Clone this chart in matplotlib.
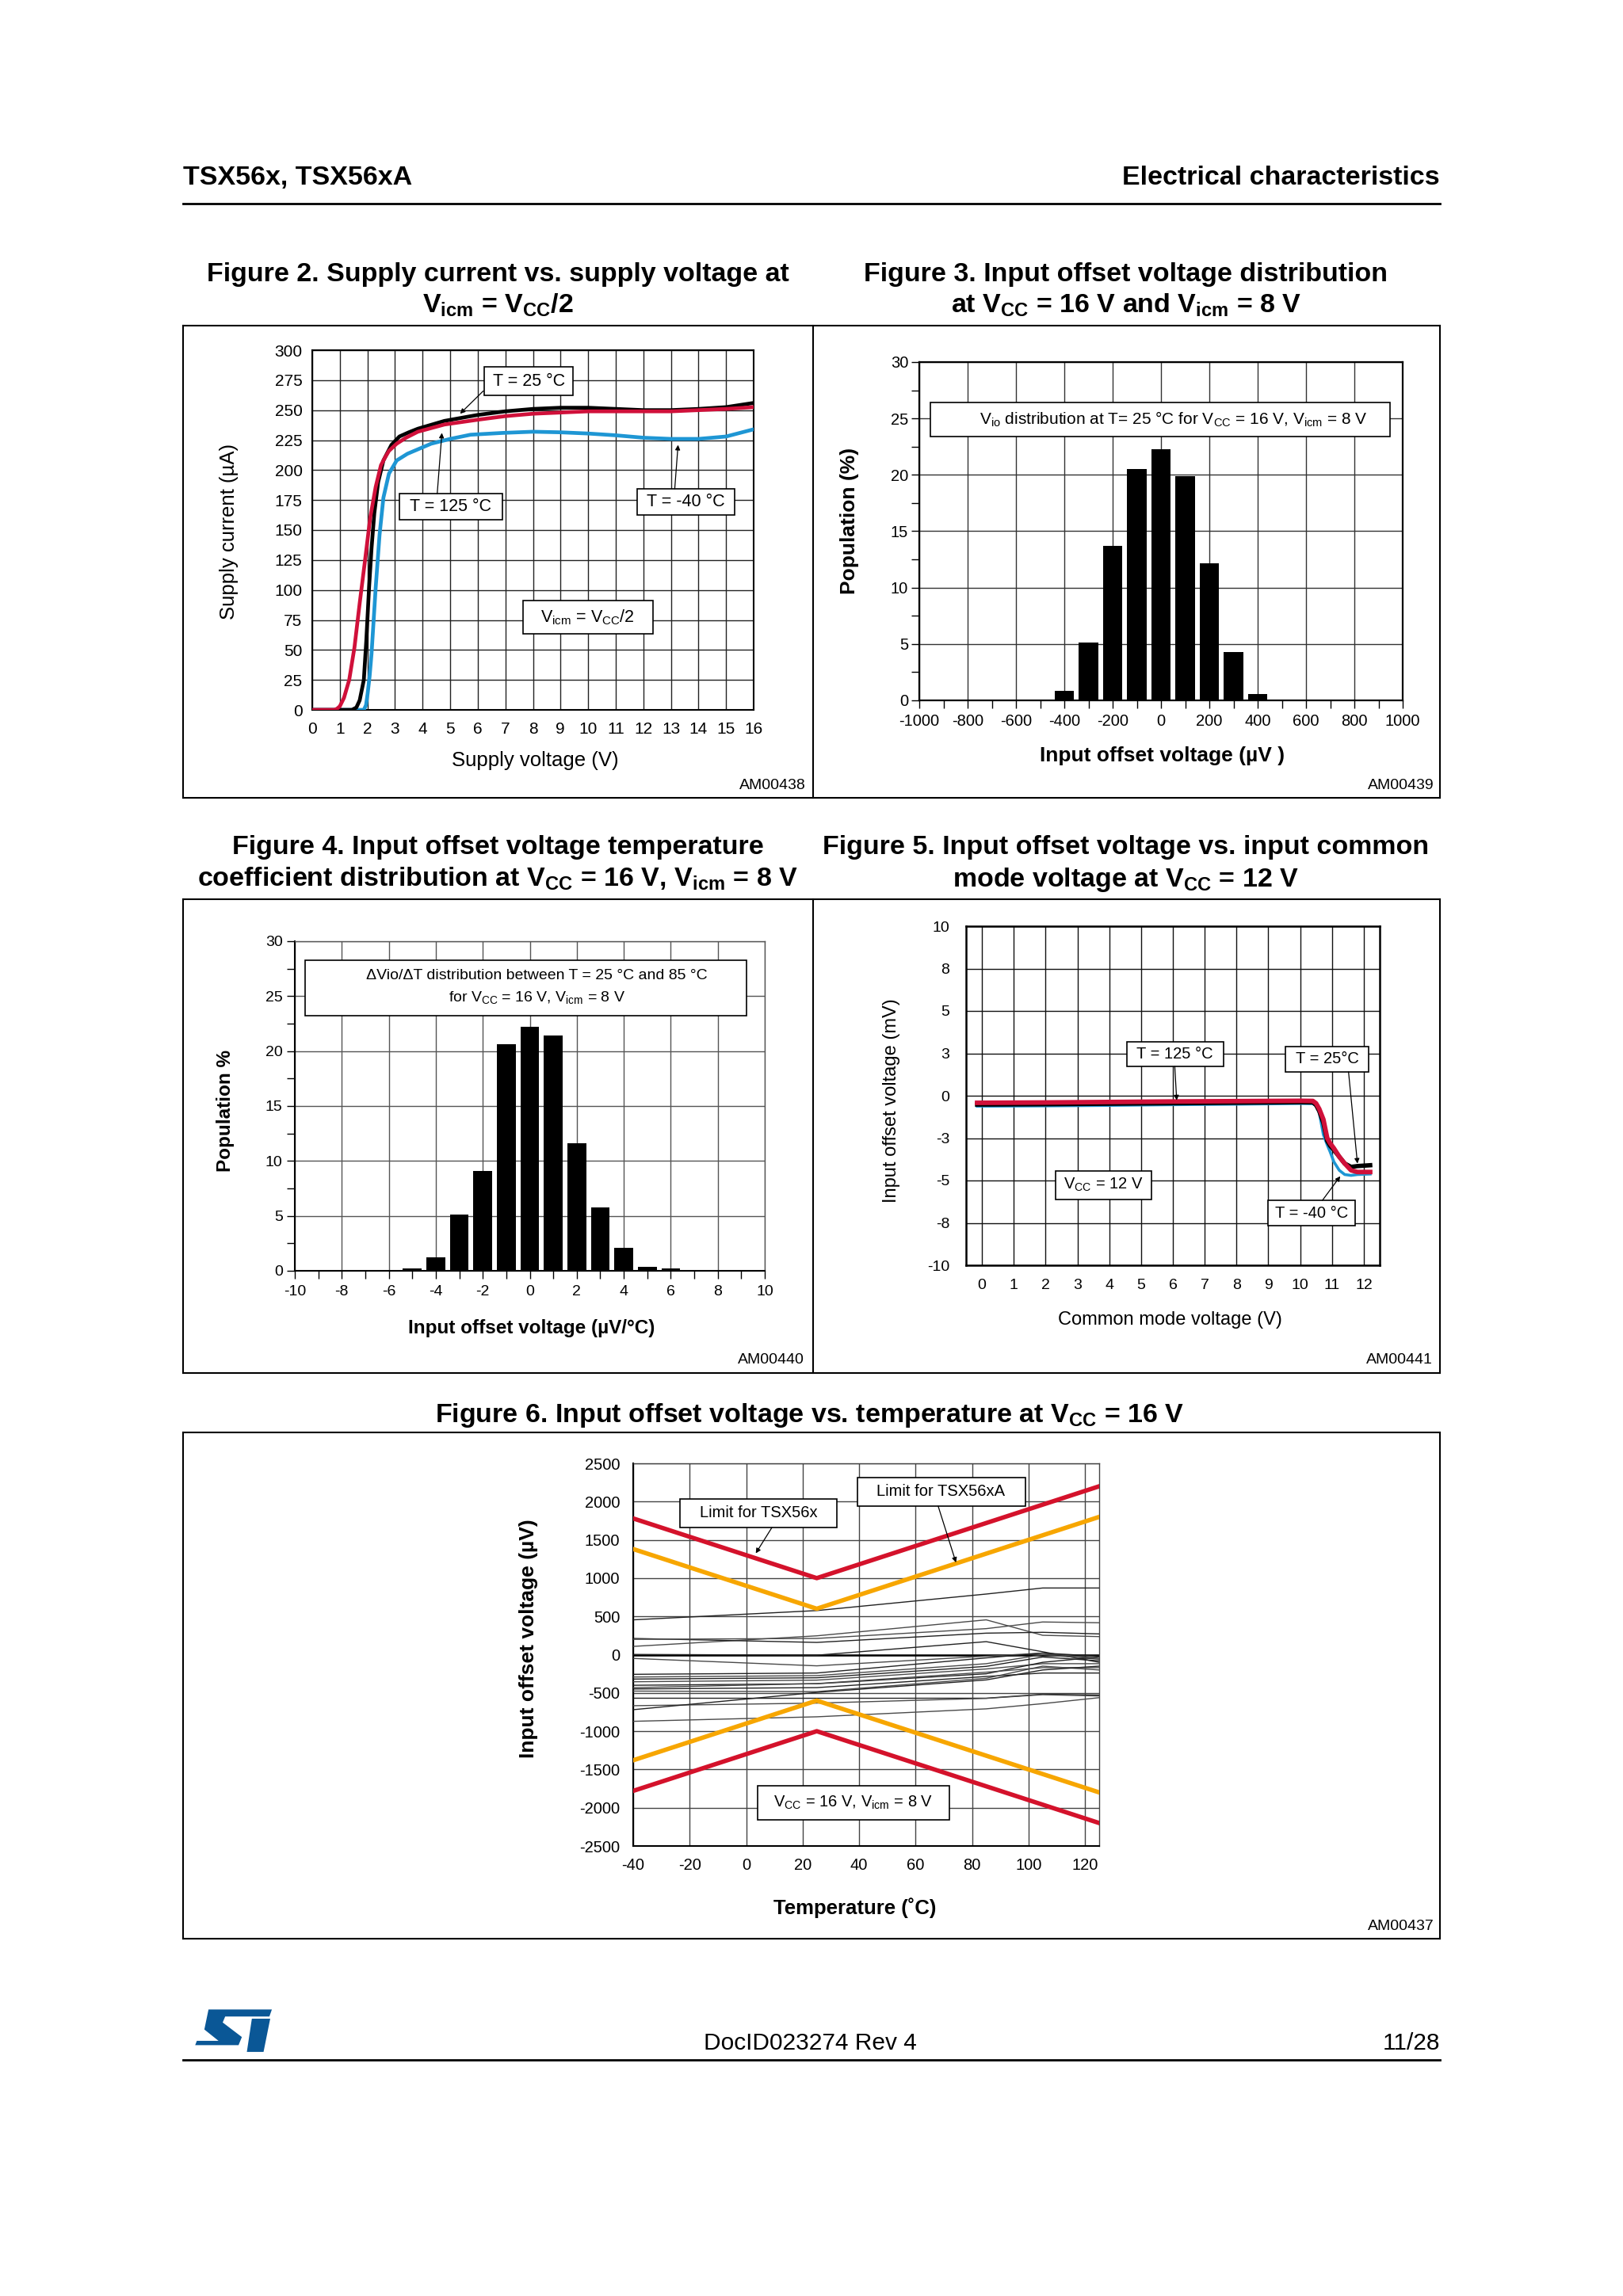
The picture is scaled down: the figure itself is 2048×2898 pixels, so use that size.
import matplotlib
matplotlib.use('Agg')
import matplotlib.pyplot as plt
from matplotlib.patches import Rectangle, Polygon
import numpy as np

plt.rcParams['font.family'] = ['Liberation Sans', 'DejaVu Sans']
plt.rcParams['mathtext.default'] = 'regular'
plt.rcParams['axes.unicode_minus'] = False

# ---------------- DATA ----------------
# Figure 2: supply current vs supply voltage
fig2_x_t25 = [0, 1.44, 1.6, 1.72, 1.87, 1.96, 2.06, 2.15, 2.25, 2.39, 2.58, 2.87, 3.16, 3.5, 3.83,
              4.79, 6, 7, 8, 9, 10, 11, 12, 13, 14, 15, 16]
fig2_i_t25 = [0, 0, 2, 8, 25, 58, 102, 135, 164, 190, 208, 221, 228, 231.5, 234.5,
              241, 246, 249, 251, 252, 252, 251, 250, 250, 251, 252.5, 256]
fig2_x_t125 = [0, 0.8, 0.9, 1.0, 1.15, 1.34, 1.53, 1.72, 1.91, 2.1, 2.3, 2.49, 2.65, 2.78, 3.06,
               3.4, 3.83, 4.79, 6, 7, 8, 9, 10, 11, 12, 13, 14, 15, 16]
fig2_i_t125 = [0, 0, 1, 3, 10, 25, 52, 89, 124, 160, 186, 204, 211, 216, 222,
               227, 232, 238, 242, 245, 247, 248, 249, 249, 249, 249, 250, 251, 252.5]
fig2_x_tm40 = [0, 1.87, 1.95, 2.01, 2.08, 2.15, 2.3, 2.44, 2.58, 2.78, 3.06, 3.45, 4.31, 5.0,
               5.74, 6.9, 8, 9, 10, 11, 12, 13, 14, 15, 16]
fig2_i_tm40 = [0, 0, 4, 14, 28, 47, 102, 146, 177, 197, 208, 213.6, 222, 226,
               229.5, 231, 232, 231.5, 230.5, 229, 227, 226, 226, 228, 234]
fig2_xticks = list(range(0, 17))
fig2_yticks = list(range(0, 301, 25))

# Figure 3: Vio distribution
fig3_bins = [-600, -500, -400, -300, -200, -100, 0, 100, 200, 300, 400, 500, 600, 700]
fig3_pop = [0.05, 0.05, 0.85, 5.15, 13.7, 20.5, 22.3, 19.9, 12.15, 4.3, 0.55, 0.05, 0.05, 0.05]
fig3_xticks = list(range(-1000, 1001, 200))
fig3_yticks = list(range(0, 31, 5))

# Figure 4: dVio/dT distribution
fig4_bins = [-5, -4, -3, -2, -1, 0, 1, 2, 3, 4, 5, 6]
fig4_pop = [0.23, 1.23, 5.1, 9.08, 20.66, 22.2, 21.44, 11.58, 5.74, 2.1, 0.39, 0.23]
fig4_xticks = list(range(-10, 11, 2))
fig4_yticks = list(range(0, 31, 5))

# Figure 5: Vio vs common mode voltage
fig5_vcm = [-0.15, 2, 4, 6, 8, 10, 10.4, 10.5, 10.6, 10.73, 10.85, 10.94, 11.06, 11.23, 11.4, 11.6, 11.8, 12.2]
fig5_t125 = [-0.42, -0.4, -0.37, -0.34, -0.32, -0.3, -0.31, -0.45, -0.78, -1.4, -2.5, -2.8, -3.1, -3.6, -4.0, -4.4, -4.5, -4.5]
fig5_t25 = [-0.52, -0.5, -0.47, -0.44, -0.41, -0.38, -0.39, -0.55, -0.9, -1.6, -2.66, -2.95, -3.2, -3.6, -4.0, -4.2, -4.15, -4.1]
fig5_tm40 = [-0.62, -0.6, -0.57, -0.53, -0.5, -0.46, -0.47, -0.6, -1.0, -2.3, -2.9, -3.3, -3.9, -4.4, -4.65, -4.7, -4.65, -4.62]
fig5_yticks = [-10, -7.5, -5, -2.5, 0, 2.5, 5, 7.5, 10]
fig5_yticklabels = ['-10', '-8', '-5', '-3', '0', '3', '5', '8', '10']
fig5_xticks = list(range(0, 13))

# Figure 6: Vio vs temperature
fig6_temp = [-40, 25, 85, 105, 125]
fig6_limit_x = [-40, 25, 125]
fig6_limit_tsx56x = [1780, 1000, 2200]
fig6_limit_tsx56xa = [1380, 600, 1800]
fig6_traces = [
    [455, 576, 792, 871, 871],
    [108, 246, 455, 253, 236],
    [212, 160, 281, 292, 271],
    [200, 212, 340, 427, 417],
    [3, -7, 170, 38, -100],
    [-49, -146, -20, 20, -50],
    [-257, -240, -42, 21, -20],
    [-292, -274, -118, 0, -60],
    [-319, -302, -153, -31, -80],
    [-354, -333, -187, -118, -118],
    [-400, -380, -250, -100, -30],
    [-431, -378, -229, -170, -170],
    [-448, -431, -285, -240, -240],
    [-476, -483, -309, -150, -200],
    [-569, -570, -569, -517, -528],
    [-667, -633, -571, -523, -540],
    [-719, -493, -330, -200, -150],
    [-871, -812, -708, -640, -562],
]
fig6_xticks = list(range(-40, 121, 20))
fig6_yticks = list(range(-2500, 2501, 500))

# ---------------- LAYOUT ----------------
W, H = 2048, 2898
fig = plt.figure(figsize=(W / 100, H / 100), dpi=100)
fig.patch.set_facecolor('white')

RED = '#d0103a'
BLUE = '#1e96d4'
ORANGE = '#f7a600'
RED6 = '#d4122b'


def add_ax(x0, y0, x1, y1):
    return fig.add_axes([x0 / W, 1 - y1 / H, (x1 - x0) / W, (y1 - y0) / H])


def ftext(x, y, s, **kw):
    fig.text(x / W, 1 - y / H, s, **kw)


def fline(x0, y0, x1, y1, lw=1.5, color='k'):
    fig.add_artist(plt.Line2D([x0 / W, x1 / W], [1 - y0 / H, 1 - y1 / H], lw=lw, color=color))


def frame(x0, y0, x1, y1, lw=1.5):
    fline(x0, y0, x1, y0, lw)
    fline(x0, y1, x1, y1, lw)
    fline(x0, y0, x0, y1, lw)
    fline(x1, y0, x1, y1, lw)


def label_box(ax, x0, x1, y0, y1, text, tx, ty, fs, lw=1.2):
    ax.add_patch(Rectangle((x0, y0), x1 - x0, y1 - y0, facecolor='white', edgecolor='k',
                           lw=lw, zorder=5, clip_on=False))
    ax.text(tx, ty, text, ha='center', va='center', fontsize=fs, zorder=6)


def arrow(ax, start, end):
    ax.annotate('', xy=end, xytext=start,
                arrowprops=dict(arrowstyle='-|>', color='k', lw=0.9, mutation_scale=9,
                                shrinkA=0, shrinkB=0), zorder=7)


# Header
ftext(231, 233, 'TSX56x, TSX56xA', fontsize=24.5, fontweight='bold', ha='left', va='baseline')
ftext(1817, 233, 'Electrical characteristics', fontsize=24.5, fontweight='bold', ha='right', va='baseline')
fline(231, 257, 1817, 257, lw=2)

# Titles
TFS = 24.5
ftext(628, 355, 'Figure 2. Supply current vs. supply voltage at', fontsize=TFS, fontweight='bold', ha='center', va='baseline')
ftext(628, 395, '$V_{icm}$ = $V_{CC}$/2', fontsize=TFS, fontweight='bold', ha='center', va='baseline')
ftext(1421, 355, 'Figure 3. Input offset voltage distribution', fontsize=TFS, fontweight='bold', ha='center', va='baseline')
ftext(1421, 395, 'at $V_{CC}$ = 16 V and $V_{icm}$ = 8 V', fontsize=TFS, fontweight='bold', ha='center', va='baseline')
ftext(628, 1078, 'Figure 4. Input offset voltage temperature', fontsize=TFS, fontweight='bold', ha='center', va='baseline')
ftext(628, 1119, 'coefficient distribution at $V_{CC}$ = 16 V, $V_{icm}$ = 8 V', fontsize=TFS, fontweight='bold', ha='center', va='baseline')
ftext(1421, 1078, 'Figure 5. Input offset voltage vs. input common', fontsize=TFS, fontweight='bold', ha='center', va='baseline')
ftext(1421, 1119, 'mode voltage at $V_{CC}$ = 12 V', fontsize=TFS, fontweight='bold', ha='center', va='baseline')
ftext(1022, 1795, 'Figure 6. Input offset voltage vs. temperature at $V_{CC}$ = 16 V', fontsize=TFS, fontweight='bold', ha='center', va='baseline')

# Frames
frame(231, 411, 1817, 1007)
fline(1026, 411, 1026, 1007)
frame(231, 1135, 1817, 1733)
fline(1026, 1135, 1026, 1733)
frame(231, 1808, 1817, 2447)

# ---------------- FIGURE 2 ----------------
ax2 = add_ax(394, 442, 951, 896)
ax2.plot(fig2_x_tm40, fig2_i_tm40, color=BLUE, lw=3.4, zorder=3, solid_joinstyle='round')
ax2.plot(fig2_x_t25, fig2_i_t25, color='k', lw=3.4, zorder=3, solid_joinstyle='round')
ax2.plot(fig2_x_t125, fig2_i_t125, color=RED, lw=3.4, zorder=4, solid_joinstyle='round')
ax2.set_xlim(0, 16)
ax2.set_ylim(0, 300)
ax2.set_xticks(fig2_xticks)
ax2.set_yticks(fig2_yticks)
ax2.grid(True, color='#222222', lw=1.0)
ax2.tick_params(length=0, labelsize=15)
ax2.tick_params(axis='y', pad=9)
ax2.tick_params(axis='x', pad=11)
for s in ax2.spines.values():
    s.set_linewidth(1.5)
label_box(ax2, 6.23, 9.46, 262.6, 285.8, 'T = 25 °C', 7.85, 274, 15.5)
arrow(ax2, (6.2, 266), (5.36, 247))
label_box(ax2, 3.17, 6.88, 158.4, 180.3, 'T = 125 °C', 5.02, 169.4, 15.5)
arrow(ax2, (4.53, 180.3), (4.70, 231))
label_box(ax2, 11.79, 15.3, 162.5, 184.4, 'T = -40 °C', 13.54, 173.5, 15.5)
arrow(ax2, (13.14, 184.4), (13.26, 221))
label_box(ax2, 7.64, 12.34, 63.5, 91, '$V_{icm}$ = $V_{CC}$/2', 9.99, 77.5, 15.5)
ftext(289, 671, 'Supply current (µA)', fontsize=18.5, rotation=90, ha='center', va='center')
ftext(675, 960, 'Supply voltage (V)', fontsize=18.5, ha='center', va='center')
ftext(1017, 991, 'AM00438', fontsize=14, ha='right', va='center')

# ---------------- FIGURE 3 ----------------
ax3 = add_ax(1160, 457, 1770, 884)
ax3.bar(fig3_bins, fig3_pop, width=80, color='k', zorder=3)
ax3.set_xlim(-1000, 1000)
ax3.set_ylim(0, 30)
ax3.set_xticks(fig3_xticks)
ax3.set_yticks(fig3_yticks)
ax3.set_xticks(list(range(-900, 1000, 200)), minor=True)
ax3.set_yticks([2.5, 7.5, 12.5, 17.5, 22.5, 27.5], minor=True)
ax3.grid(True, which='major', color='#333333', lw=1.0)
ax3.tick_params(which='both', direction='out', length=7, width=1.0, labelsize=14.5)
ax3.tick_params(axis='x', pad=5)
ax3.tick_params(axis='y', pad=3)
for s in ax3.spines.values():
    s.set_linewidth(1.6)
label_box(ax3, -955, 948, 23.4, 26.4,
          '$V_{io}$ distribution at T= 25 °C for $V_{CC}$ = 16 V, $V_{icm}$ = 8 V', 52, 24.9, 15)
ftext(1072, 657, 'Population (%)', fontsize=19, fontweight='bold', rotation=90, ha='center', va='center')
ftext(1467, 954, 'Input offset voltage (µV )', fontsize=19, fontweight='bold', ha='center', va='center')
ftext(1810, 991, 'AM00439', fontsize=14, ha='right', va='center')

# ---------------- FIGURE 4 ----------------
ax4 = add_ax(372, 1188, 965, 1604)
ax4.bar(fig4_bins, fig4_pop, width=0.8, color='k', zorder=3)
ax4.set_xlim(-10, 10)
ax4.set_ylim(0, 30)
ax4.set_xticks(fig4_xticks)
ax4.set_yticks(fig4_yticks)
ax4.set_xticks(list(range(-9, 10, 2)), minor=True)
ax4.set_yticks([2.5, 7.5, 12.5, 17.5, 22.5, 27.5], minor=True)
ax4.grid(True, which='major', color='#555555', lw=1.0)
ax4.tick_params(which='both', direction='out', length=7, width=1.0, labelsize=14)
ax4.tick_params(axis='x', pad=6)
ax4.tick_params(axis='y', pad=4)
ax4.spines['left'].set_linewidth(1.5)
ax4.spines['bottom'].set_linewidth(1.5)
ax4.spines['top'].set_color('#555555')
ax4.spines['right'].set_color('#555555')
ax4.spines['top'].set_linewidth(1.0)
ax4.spines['right'].set_linewidth(1.0)
label_box(ax4, -9.57, 9.23, 23.25, 28.25, '', 0, 0, 14)
ax4.text(0.3, 26.85, 'ΔVio/ΔT distribution between T = 25 °C and 85 °C', ha='center', va='center', fontsize=14, zorder=6)
ax4.text(0.3, 24.85, 'for $V_{CC}$ = 16 V, $V_{icm}$ = 8 V', ha='center', va='center', fontsize=14, zorder=6)
ftext(284, 1402, 'Population %', fontsize=17.5, fontweight='bold', rotation=90, ha='center', va='center')
ftext(671, 1677, 'Input offset voltage (µV/°C)', fontsize=17.5, fontweight='bold', ha='center', va='center')
ftext(1015, 1716, 'AM00440', fontsize=14, ha='right', va='center')

# ---------------- FIGURE 5 ----------------
ax5 = add_ax(1219, 1169, 1741, 1597)
ax5.plot(fig5_vcm, fig5_tm40, color=BLUE, lw=2.6, zorder=3, solid_joinstyle='round')
ax5.plot(fig5_vcm, fig5_t25, color='k', lw=4.0, zorder=3, solid_joinstyle='round')
ax5.plot(fig5_vcm, fig5_t125, color=RED, lw=4.2, zorder=4, solid_joinstyle='round')
ax5.set_xlim(-0.5, 12.5)
ax5.set_ylim(-10, 10)
ax5.set_xticks(fig5_xticks)
ax5.set_yticks(fig5_yticks)
ax5.set_yticklabels(fig5_yticklabels)
ax5.grid(True, color='#111111', lw=1.0)
ax5.tick_params(length=0, labelsize=14)
ax5.tick_params(axis='y', pad=15)
ax5.tick_params(axis='x', pad=12)
for s in ax5.spines.values():
    s.set_linewidth(1.8)
label_box(ax5, 4.55, 7.6, 1.73, 3.18, 'T = 125 °C', 6.07, 2.45, 14.5)
arrow(ax5, (6.06, 1.73), (6.12, -0.27))
label_box(ax5, 9.53, 12.16, 1.41, 2.88, 'T = 25°C', 10.85, 2.15, 14.5)
arrow(ax5, (11.52, 1.41), (11.8, -4.0))
label_box(ax5, 8.98, 11.72, -7.68, -6.17, 'T = -40 °C', 10.35, -6.93, 14.5)
arrow(ax5, (10.7, -6.17), (11.26, -4.75))
label_box(ax5, 2.32, 5.34, -6.1, -4.44, '$V_{CC}$ = 12 V', 3.83, -5.27, 14.5)
ftext(1125, 1389, 'Input offset voltage (mV)', fontsize=17, rotation=90, ha='center', va='center')
ftext(1476, 1666, 'Common mode voltage (V)', fontsize=17, ha='center', va='center')
ftext(1808, 1716, 'AM00441', fontsize=14, ha='right', va='center')

# ---------------- FIGURE 6 ----------------
ax6 = add_ax(799, 1847, 1387, 2330)
for i, tr in enumerate(fig6_traces):
    ax6.plot(fig6_temp, tr, color='#222222' if i % 2 == 0 else '#4a4a4a', lw=1.0, zorder=3)
ax6.plot(fig6_limit_x, fig6_limit_tsx56x, color=RED6, lw=4, zorder=4)
ax6.plot(fig6_limit_x, [-v for v in fig6_limit_tsx56x], color=RED6, lw=4, zorder=4)
ax6.plot(fig6_limit_x, fig6_limit_tsx56xa, color=ORANGE, lw=4, zorder=4)
ax6.plot(fig6_limit_x, [-v for v in fig6_limit_tsx56xa], color=ORANGE, lw=4, zorder=4)
ax6.set_xlim(-40, 125)
ax6.set_ylim(-2500, 2500)
ax6.set_xticks(fig6_xticks)
ax6.set_yticks(fig6_yticks)
ax6.grid(True, color='#444444', lw=1.0)
ax6.axhline(0, color='k', lw=1.8, zorder=2)
ax6.tick_params(length=0, labelsize=14.5)
ax6.tick_params(axis='y', pad=12)
ax6.tick_params(axis='x', pad=11)
ax6.spines['left'].set_linewidth(1.5)
ax6.spines['bottom'].set_linewidth(1.5)
ax6.spines['top'].set_color('#444444')
ax6.spines['right'].set_color('#444444')
ax6.spines['top'].set_linewidth(1.0)
ax6.spines['right'].set_linewidth(1.0)
label_box(ax6, -23.4, 32, 1660, 2039, 'Limit for TSX56x', 4.3, 1850, 14.5)
arrow(ax6, (9.1, 1660), (3.4, 1324))
label_box(ax6, 39.4, 98.9, 1939, 2318, 'Limit for TSX56xA', 69, 2128, 14.5)
arrow(ax6, (68, 1939), (74.3, 1204))
label_box(ax6, 4, 72, -2154, -1713, '$V_{CC}$ = 16 V, $V_{icm}$ = 8 V', 38, -1935, 14.5)
ftext(667, 2068, 'Input offset voltage (µV)', fontsize=19, fontweight='bold', rotation=90, ha='center', va='center')
ftext(1079, 2408, 'Temperature (˚C)', fontsize=18.5, fontweight='bold', ha='center', va='center')
ftext(1810, 2432, 'AM00437', fontsize=14, ha='right', va='center')

# ---------------- FOOTER ----------------
def logo_pts(pts):
    return [((200 + zx * 1.052) / W, 1 - (2520 + zy * 0.341) / H) for zx, zy in pts]

LOGO = '#0a5796'
s_shape = [(60, 48), (136, 48), (133, 74), (80, 74), (77, 96), (100, 150), (96, 180),
           (44, 180), (46, 164), (72, 164), (55, 122)]
t_shape = [(112, 82), (134, 82), (126, 205), (106, 205)]
fig.add_artist(Polygon(logo_pts(s_shape), closed=True, facecolor=LOGO, edgecolor='none', transform=fig.transFigure))
fig.add_artist(Polygon(logo_pts(t_shape), closed=True, facecolor=LOGO, edgecolor='none', transform=fig.transFigure))

ftext(1022, 2587, 'DocID023274 Rev 4', fontsize=21.5, ha='center', va='baseline')
ftext(1817, 2587, '11/28', fontsize=21.5, ha='right', va='baseline')
fline(231, 2600, 1817, 2600, lw=2)

fig.savefig('out.png', dpi=100, facecolor='white')
